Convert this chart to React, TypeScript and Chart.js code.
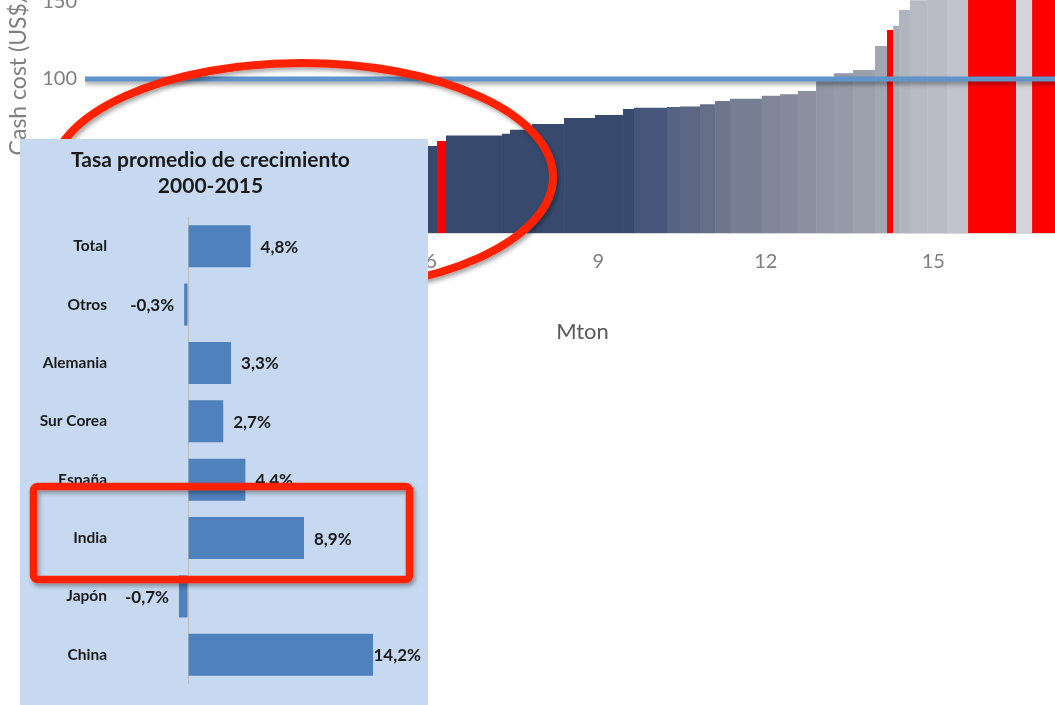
import React, { useEffect, useRef } from "react";
import { Chart, registerables } from "chart.js";

Chart.register(...registerables);

const FONT = 'Lato, "Open Sans", "DejaVu Sans", sans-serif';

// ---------- Background chart: cash-cost curve ----------
const capacityMt = [
  0.45, 0.6, 0.5, 0.7, 0.55, 0.8, 0.6, 0.9, 1.008, 0.161, 1.003, 0.144, 0.394,
  0.574, 0.555, 0.502, 0.197, 0.591, 0.233, 0.359, 0.269, 0.268, 0.574, 0.322,
  0.323, 0.323, 0.322, 0.341, 0.394, 0.215, 0.108, 0.107, 0.197, 0.305, 0.358,
  0.377, 0.86, 0.287, 0.9,
];
const cashCost = [
  22, 27, 31, 35, 39, 43, 47, 51, 56.5, 59.7, 63.3, 64.5, 67.1, 70.8, 74.7,
  76.6, 80.5, 81.4, 81.8, 82.1, 83.6, 85.7, 87.2, 89.2, 90.1, 92.2, 99.4, 103.7,
  105.8, 121.4, 131.8, 134.6, 144.8, 151.1, 158, 165, 180, 190, 200,
];
const barColors = [
  "#374a6e", "#374a6e", "#374a6e", "#374a6e", "#374a6e", "#374a6e", "#374a6e",
  "#374a6e", "#374a6e", "#ff0000", "#374a6e", "#374a6e", "#374a6e", "#374a6e",
  "#374a6e", "#374a6e", "#374a6e", "#46567a", "#566381", "#5c6784", "#656f89",
  "#6e768e", "#777f94", "#7f8698", "#848a9c", "#8a90a0", "#9096a6", "#9599a9",
  "#9ba0ad", "#a3a7b3", "#ff0000", "#aaaeb9", "#b1b5c0", "#b7bac4", "#b9bcc5",
  "#c1c4cc", "#ff0000", "#d3d5da", "#ff0000",
];
const referencePrice = 100;
const costXTicks = [0, 3, 6, 9, 12, 15];
const costYTicks = [0, 50, 100, 150, 200];
const costXTitle = "Mton";
const costYTitle = "Cash cost (US$/t)";
const X_MIN = -0.2;
const X_MAX = 17.63;
const Y_MAX = 215.6;

// ---------- Overlay panel: growth rates ----------
const growthTitle = ["Tasa promedio de crecimiento", "2000-2015"];
const countries = ["Total", "Otros", "Alemania", "Sur Corea", "España", "India", "Japón", "China"];
const growthRate = [4.8, -0.3, 3.3, 2.7, 4.4, 8.9, -0.7, 14.2];

const lineShadow = {
  id: "lineShadow",
  beforeDatasetDraw(chart: any, args: any) {
    if (args.meta && chart.data.datasets[args.index].label === "ref") {
      const ctx = chart.ctx;
      ctx.save();
      ctx.shadowColor = "rgba(0,0,0,0.35)";
      ctx.shadowBlur = 4;
      ctx.shadowOffsetY = 3;
    }
  },
  afterDatasetDraw(chart: any, args: any) {
    if (args.meta && chart.data.datasets[args.index].label === "ref") {
      chart.ctx.restore();
    }
  },
};

function CostCurve() {
  const ref = useRef<HTMLCanvasElement>(null);
  useEffect(() => {
    const starts: number[] = [];
    let acc = 0;
    capacityMt.forEach((w) => {
      starts.push(acc);
      acc += w;
    });
    const barSets = capacityMt.map((w, i) => ({
      label: "b" + i,
      data: [
        { x: starts[i], y: cashCost[i] },
        { x: starts[i] + w, y: cashCost[i] },
      ],
      backgroundColor: barColors[i],
      borderColor: "rgba(0,0,0,0)",
      borderWidth: 0,
      fill: "origin",
      pointRadius: 0,
      order: 1,
    }));
    const refSet = {
      label: "ref",
      data: [
        { x: X_MIN, y: referencePrice },
        { x: X_MAX, y: referencePrice },
      ],
      borderColor: "#6194cb",
      borderWidth: 5,
      fill: false,
      pointRadius: 0,
      order: 0,
    };
    const chart = new Chart(ref.current as HTMLCanvasElement, {
      type: "line",
      data: { datasets: [refSet, ...barSets] as any },
      options: {
        responsive: false,
        animation: false,
        layout: { padding: 0 },
        plugins: {
          legend: { display: false },
          tooltip: { enabled: false },
        },
        scales: {
          x: {
            type: "linear",
            min: X_MIN,
            max: X_MAX,
            afterBuildTicks: (s: any) => {
              s.ticks = costXTicks.filter((v) => v <= X_MAX).map((v) => ({ value: v }));
            },
            afterFit: (s: any) => {
              s.height = 112;
              s.paddingLeft = 0;
              s.paddingRight = 0;
            },
            grid: { display: false, drawTicks: false },
            border: { display: true, color: "#d9d9d9", width: 1 },
            ticks: {
              font: { family: FONT, size: 20 },
              color: "#7f7f7f",
              padding: 17,
              maxRotation: 0,
              autoSkip: false,
            },
            title: {
              display: true,
              text: costXTitle,
              font: { family: FONT, size: 22 },
              color: "#595959",
              padding: { top: 0, bottom: 0 },
            },
          },
          y: {
            type: "linear",
            min: 0,
            max: Y_MAX,
            afterBuildTicks: (s: any) => {
              s.ticks = costYTicks.map((v) => ({ value: v }));
            },
            afterFit: (s: any) => {
              s.width = 85;
              s.paddingTop = 0;
              s.paddingBottom = 0;
            },
            grid: { display: false, drawTicks: false },
            border: { display: false },
            ticks: { font: { family: FONT, size: 20 }, color: "#7f7f7f", padding: 8 },
            title: {
              display: true,
              text: costYTitle,
              font: { family: FONT, size: 23 },
              color: "#7f7f7f",
              padding: { top: 5, bottom: 0 },
            },
          },
        },
      } as any,
      plugins: [lineShadow],
    });
    return () => chart.destroy();
  }, []);
  return (
    <canvas
      ref={ref}
      width={1080}
      height={444}
      style={{ position: "absolute", left: 0, top: -99, width: 1080, height: 444, zIndex: 0 }}
    />
  );
}

const valueLabels = {
  id: "valueLabels",
  afterDatasetsDraw(chart: any) {
    const { ctx, chartArea } = chart;
    const meta = chart.getDatasetMeta(0);
    ctx.save();
    ctx.font = `bold 17px ${FONT}`;
    ctx.fillStyle = "#1a1a1a";
    ctx.textBaseline = "middle";
    ctx.textAlign = "left";
    meta.data.forEach((el: any, i: number) => {
      const v = growthRate[i];
      const text = v.toFixed(1).replace(".", ",") + "%";
      const w = ctx.measureText(text).width;
      const { x, y } = el.getProps(["x", "y"], true);
      const tx = v >= 0 ? Math.min(x + 10, chartArea.right - w) : x - 10 - w;
      ctx.fillText(text, tx, y + 1);
    });
    ctx.restore();
  },
};

function GrowthPanel() {
  const ref = useRef<HTMLCanvasElement>(null);
  useEffect(() => {
    const chart = new Chart(ref.current as HTMLCanvasElement, {
      type: "bar",
      data: {
        labels: countries,
        datasets: [
          {
            data: growthRate,
            backgroundColor: "#4f81bd",
            borderWidth: 0,
            barPercentage: 0.72,
            categoryPercentage: 1,
          },
        ],
      },
      options: {
        indexAxis: "y",
        responsive: false,
        animation: false,
        layout: { padding: { top: 0, right: 1, bottom: 21, left: 0 } },
        plugins: {
          legend: { display: false },
          tooltip: { enabled: false },
          title: {
            display: true,
            text: growthTitle,
            font: { family: FONT, size: 21, weight: "bold", lineHeight: 26 / 21 },
            color: "#1a1a1a",
            padding: { top: 8, bottom: 18 },
          },
        },
        scales: {
          x: {
            min: -2,
            max: 17.88,
            afterBuildTicks: (s: any) => {
              s.ticks = [{ value: 0 }];
            },
            afterFit: (s: any) => {
              s.height = 0;
              s.paddingLeft = 0;
              s.paddingRight = 0;
            },
            ticks: { display: false },
            grid: {
              drawTicks: false,
              lineWidth: 1,
              color: (c: any) => (c.tick && c.tick.value === 0 ? "#bcbcbc" : "rgba(0,0,0,0)"),
            },
            border: { display: false },
          },
          y: {
            afterFit: (s: any) => {
              s.width = 162;
              s.paddingTop = 0;
              s.paddingBottom = 0;
            },
            grid: { display: false, drawTicks: false },
            border: { display: false },
            ticks: { font: { family: FONT, size: 15.5, weight: "bold" }, color: "#1a1a1a", padding: 55 },
          },
        },
      } as any,
      plugins: [valueLabels],
    });
    return () => chart.destroy();
  }, []);
  return (
    <canvas
      ref={ref}
      width={422}
      height={566}
      style={{ position: "absolute", left: 0, top: 139, width: 422, height: 566, zIndex: 3 }}
    />
  );
}

export default function App() {
  return (
    <div
      style={{
        position: "fixed",
        left: 0,
        top: 0,
        width: 1055,
        height: 705,
        overflow: "hidden",
        background: "#ffffff",
      }}
    >
      <CostCurve />
      <svg width={1055} height={705} style={{ position: "absolute", left: 0, top: 0, zIndex: 1 }}>
        <defs>
          <filter id="shEllipse" x="-10%" y="-20%" width="125%" height="145%">
            <feDropShadow dx="2" dy="3" stdDeviation="2" floodColor="#000" floodOpacity="0.35" />
          </filter>
        </defs>
        <ellipse cx={302} cy={177} rx={251} ry={114} fill="none" stroke="#ff2200" strokeWidth={8} filter="url(#shEllipse)" />
      </svg>
      <div
        style={{
          position: "absolute",
          left: 20,
          top: 139,
          width: 408,
          height: 566,
          background: "#c6d9f0",
          zIndex: 2,
        }}
      />
      <GrowthPanel />
      <svg width={1055} height={705} style={{ position: "absolute", left: 0, top: 0, zIndex: 4 }}>
        <defs>
          <filter id="shRect" x="-10%" y="-20%" width="125%" height="150%">
            <feDropShadow dx="2" dy="3" stdDeviation="2" floodColor="#000" floodOpacity="0.35" />
          </filter>
        </defs>
        <rect x={33.5} y={486.5} width={376} height={93} rx={4} ry={4} fill="none" stroke="#ff2200" strokeWidth={7.5} filter="url(#shRect)" />
      </svg>
    </div>
  );
}
